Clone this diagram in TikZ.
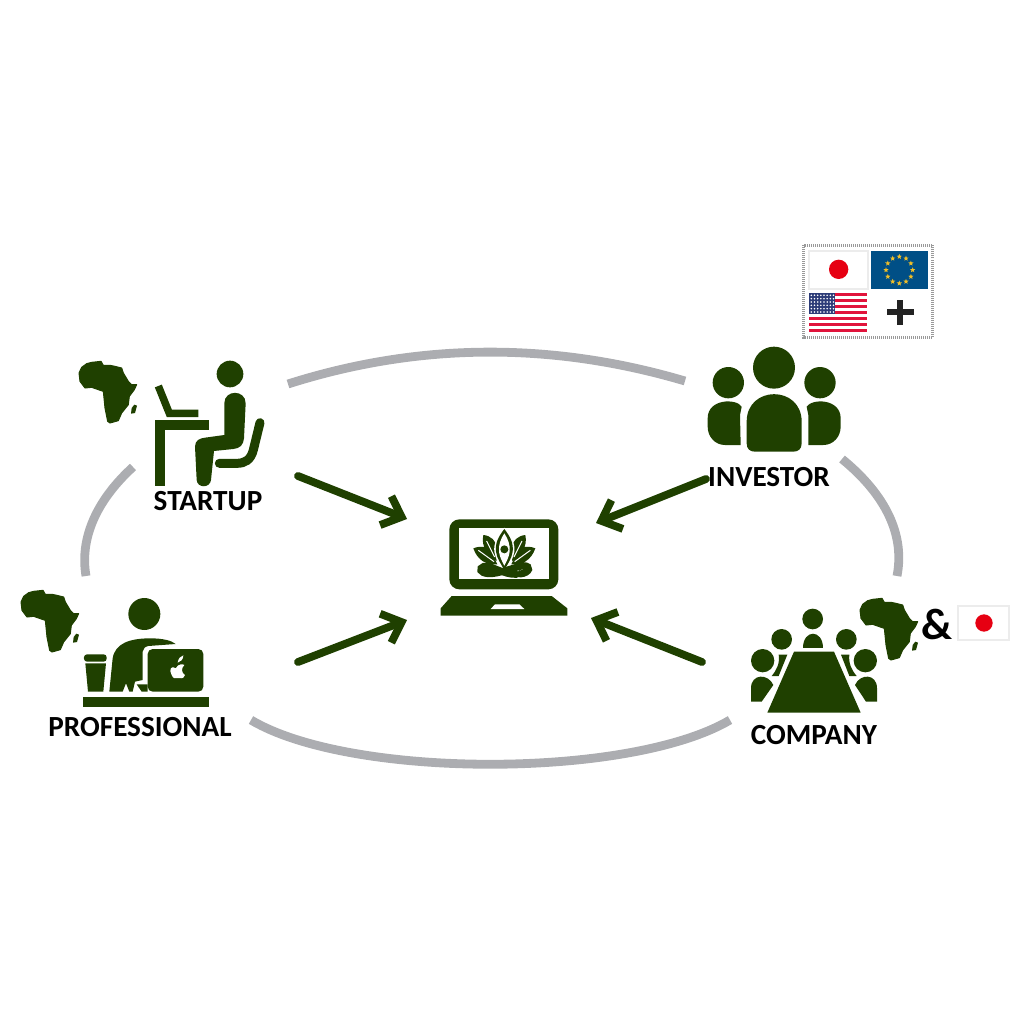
\documentclass[tikz,border=0pt]{standalone}
\usepackage{fontspec}
\setmainfont{Carlito}
\usetikzlibrary{arrows.meta,shapes.geometric,calc}
\definecolor{dg}{RGB}{31,64,0}
\definecolor{arcgray}{RGB}{172,173,177}
\definecolor{jred}{RGB}{230,0,18}
\definecolor{eublue}{RGB}{0,79,134}
\definecolor{eustar}{RGB}{240,190,40}
\definecolor{usred}{RGB}{225,20,60}
\definecolor{usblue}{RGB}{45,60,120}
\definecolor{plusk}{RGB}{35,35,35}
\tikzset{
  ring/.style={draw=arcgray,line width=0.88mm},
  flow/.style={draw=dg,line width=0.78mm,line cap=round,-{Straight Barb[length=1.7mm,width=3.1mm]}},
  lab/.style={font=\bfseries\fontsize{8.3pt}{9pt}\selectfont,inner sep=0pt,text=black},
  pics/africa/.style={code={
    \begin{scope}[scale=0.33333,shift={(-9,-9)}]
    \fill[dg,draw=dg,line width=0.1mm,line join=round] (12,45) -- (20,28) -- (35,17) -- (50,13) -- (78,10) -- (85,22) -- (105,22) -- (120,25) -- (140,30) -- (145,45) -- (160,70) -- (170,80) -- (185,80) -- (178,95) -- (163,115) -- (160,140) -- (140,165) -- (130,188) -- (105,195) -- (98,190) -- (90,150) -- (88,130) -- (85,100) -- (70,95) -- (50,88) -- (30,90) -- (15,70) -- cycle;
    \fill[dg] (178,140) -- (186,143) -- (180,165) -- (168,167) -- (170,150) -- cycle;
    \end{scope}
  }}
}
\begin{document}
\begin{tikzpicture}[x=0.01cm,y=-0.01cm]
\useasboundingbox (0,0) rectangle (1024,1024);
% ring
\coordinate (ta) at (288,384); \coordinate (tb) at (685,381);
\coordinate (la) at (133,467); \coordinate (lb) at (86,576);
\coordinate (ra) at (842,459); \coordinate (rb) at (897,576);
\coordinate (ba) at (251,720); \coordinate (bb) at (730,720);
\draw[ring] (ta) .. controls (420,342) and (553,342) .. (tb);
\draw[ring] (la) .. controls (100,497) and (79,535) .. (lb);
\draw[ring] (ra) .. controls (880,490) and (906,530) .. (rb);
\draw[ring] (ba) .. controls (350,779) and (630,779) .. (bb);
% arrows
\coordinate (a1) at (298,476); \coordinate (h1) at (407,519);
\coordinate (a2) at (298,662); \coordinate (h2) at (407,620);
\coordinate (a3) at (706,479); \coordinate (h3) at (596,523);
\coordinate (a4) at (702,662); \coordinate (h4) at (591,618);
\draw[flow] (a1) -- (h1);
\draw[flow] (a2) -- (h2);
\draw[flow] (a3) -- (h3);
\draw[flow] (a4) -- (h4);
% labels
\node[lab] (startup) at (208,501) {STARTUP};
\node[lab] (professional) at (140,727) {PROFESSIONAL};
\node[lab] (investor) at (769,477) {INVESTOR};
\node[lab] (company) at (814,735) {COMPANY};
\node[lab,font=\bfseries\fontsize{12.5pt}{13pt}\selectfont] (amp) at (937,624) {\&};
% Africas
\pic at (78,361) {africa};
\pic at (20,590) {africa};
\pic at (859,598) {africa};
% startup icon
\begin{scope}[shift={(10,350)},scale=0.33333]
\fill[dg] (660,72) circle [radius=40];
\draw[dg,line width=0.75mm] (445,108) -- (478,190) -- (565,190);
\fill[dg] (435,210) rectangle (597,240);
\fill[dg] (435,210) rectangle (465,408);
\fill[dg] (643,160) .. controls (643,118) and (707,118) .. (707,160) -- (702,265) .. controls (700,285) and (690,295) .. (670,297) -- (612,303) -- (603,390) .. controls (600,415) and (562,415) .. (560,390) -- (555,290) .. controls (555,270) and (570,265) .. (585,263) -- (643,255) -- cycle;
\draw[dg,line width=0.9mm,line cap=round] (750,218) -- (730,300) .. controls (722,330) and (705,340) .. (680,340) -- (628,340);
\end{scope}
% professional icon
\begin{scope}[shift={(10,350)},scale=0.33333]
\fill[dg] (403,792) circle [radius=48];
\fill[dg] (298,1025) -- (308,925) .. controls (315,880) and (360,865) .. (420,865) .. controls (460,865) and (485,872) .. (497,882) -- (415,888) .. controls (405,890) and (400,895) .. (398,905) -- (398,990) -- (375,995) -- (368,1025) -- (358,1025) -- (348,1000) -- (338,1025) -- cycle;
\fill[dg,rounded corners=0.5mm] (413,897) rectangle (580,1025);
\fill[dg] (380,1003) -- (413,1003) -- (413,1025) -- (395,1025) -- cycle;
\fill[dg,rounded corners=0.3mm] (222,913) rectangle (290,935);
\fill[dg] (226,940) -- (288,940) -- (280,1025) -- (234,1025) -- cycle;
\fill[dg] (220,1042) rectangle (598,1070);
\fill[white] (497,955) .. controls (505,940) and (520,942) .. (523,945) .. controls (512,955) and (515,970) .. (525,975) .. controls (520,988) and (512,985) .. (503,984) .. controls (495,985) and (490,987) .. (485,975) .. controls (475,958) and (485,945) .. (497,955) -- cycle;
\fill[white] (503,938) .. controls (505,925) and (512,918) .. (520,916) .. controls (520,928) and (512,936) .. (503,938) -- cycle;
\end{scope}
% investor icon
\begin{scope}[shift={(690,235)},scale=0.33333]
\fill[dg] (252,398) circle [radius=63];
\fill[dg] (115,443) circle [radius=47];
\fill[dg] (390,443) circle [radius=47];
\fill[dg] (170,560) .. controls (170,450) and (335,450) .. (335,560) -- (335,625) .. controls (335,642) and (325,650) .. (310,650) -- (195,650) .. controls (180,650) and (170,642) .. (170,625) -- cycle;
\fill[dg] (155,515) .. controls (140,490) and (53,490) .. (53,550) -- (53,575) .. controls (53,605) and (75,630) .. (105,630) -- (152,630) -- (150,540) -- cycle;
\fill[dg] (350,515) .. controls (365,490) and (452,490) .. (452,550) -- (452,575) .. controls (452,605) and (430,630) .. (400,630) -- (355,630) -- (355,540) -- cycle;
% flags
\draw[gray!80,line width=0.3mm,dash pattern=on 0.1mm off 0.1mm] (341,30) rectangle (728,307);
\draw[gray!15,fill=white,line width=0.2mm] (358,47) rectangle (535,162);
\fill[jred] (446,103) circle [radius=29];
\fill[eublue] (543,47) rectangle (715,162);
\foreach \a in {0,30,...,330}
  \node[star,star points=5,star point ratio=2.3,fill=eustar,inner sep=0pt,minimum size=0.55mm,draw=none] at ($(628,105)+(\a:40)$) {};
\fill[white] (358,175) rectangle (530,292);
\foreach \s in {0,1,...,6}
  \fill[usred] (358,175+\s*18) rectangle (530,183+\s*18);
\fill[usblue] (358,175) rectangle (435,237);
\foreach \i in {0,...,7} \foreach \j in {0,...,5}
  \fill[white] (364+\i*9.5,181+\j*10) circle [radius=2.6];
\fill[plusk] (590,223) rectangle (672,241);
\fill[plusk] (621,194) rectangle (640,271);
\end{scope}
% company icon
\begin{scope}[shift={(730,580)},scale=0.33333]
\fill[dg] (192,215) -- (312,215) -- (392,398) -- (112,398) -- cycle;
\fill[dg] (248,117) circle [radius=31];
\fill[dg] (155,178) circle [radius=31];
\fill[dg] (349,178) circle [radius=31];
\fill[dg] (98,242) circle [radius=35];
\fill[dg] (406,242) circle [radius=35];
\fill[dg] (218,204) .. controls (218,148) and (280,148) .. (280,204) -- cycle;
\fill[dg] (63,365) -- (63,325) .. controls (63,280) and (115,280) .. (130,315) -- (95,365) -- cycle;
\fill[dg] (441,365) -- (441,325) .. controls (441,280) and (390,280) .. (375,315) -- (408,365) -- cycle;
\fill[dg] (146,224) -- (172,224) -- (146,288) -- (125,288) .. controls (140,270) and (150,250) .. (146,224) -- cycle;
\fill[dg] (358,224) -- (333,224) -- (358,288) -- (380,288) .. controls (365,270) and (355,250) .. (358,224) -- cycle;
\draw[gray!15,fill=white,line width=0.2mm] (685,78) rectangle (838,181);
\fill[jred] (762,129) circle [radius=26];
\end{scope}
% laptop
\begin{scope}[shift={(430,510)},scale=0.33333]
\fill[dg,rounded corners=1mm] (58,28) rectangle (385,238);
\fill[white] (88,55) rectangle (356,207);
\fill[dg] (65,258) -- (365,258) -- (412,295) -- (412,317) -- (32,317) -- (32,295) -- cycle;
\fill[white] (195,283) -- (268,283) -- (283,297) -- (182,297) -- cycle;
\end{scope}
% lotus logo
\begin{scope}[shift={(470,525)},scale=0.33333]
\foreach \m/\o in {1/0,-1/206}{
 \begin{scope}[shift={(\o,0)},xscale=\m]
 \fill[dg] (40,30) .. controls (62,32) and (80,48) .. (78,66) -- (80,108) .. controls (55,95) and (32,65) .. (40,30) -- cycle;
 \fill[dg] (10,70) .. controls (35,60) and (58,66) .. (66,84) -- (82,118) .. controls (50,122) and (22,105) .. (10,70) -- cycle;
 \draw[white,line width=0.1mm] (25,76) -- (72,110);
 \draw[white,line width=0.1mm] (50,48) -- (74,96);
 \end{scope}}
\fill[white] (103,8) .. controls (82,35) and (70,55) .. (73,80) .. controls (75,100) and (90,120) .. (103,140) .. controls (116,120) and (131,100) .. (133,80) .. controls (136,55) and (124,35) .. (103,8) -- cycle;
\fill[dg] (103,12) .. controls (85,35) and (75,55) .. (78,80) .. controls (80,100) and (95,120) .. (103,135) .. controls (111,120) and (126,100) .. (128,80) .. controls (131,55) and (121,35) .. (103,12) -- cycle;
\fill[white] (103,25) .. controls (92,42) and (85,60) .. (87,80) .. controls (89,97) and (98,112) .. (103,122) .. controls (108,112) and (117,97) .. (119,80) .. controls (121,60) and (114,42) .. (103,25) -- cycle;
\fill[dg] (103,73) circle [radius=12];
\draw[dg,line width=0.7mm,line cap=round] (140,148) .. controls (100,150) and (65,120) .. (42,124) .. controls (25,130) and (30,144) .. (55,146) .. controls (85,148) and (130,127) .. (160,122) .. controls (185,122) and (180,144) .. (150,147);
\end{scope}
\end{tikzpicture}
\end{document}
